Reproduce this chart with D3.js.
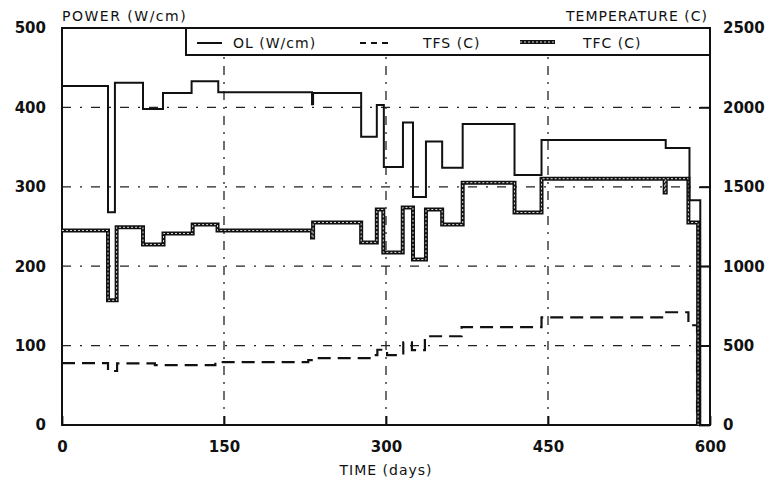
<!DOCTYPE html>
<html>
<head>
<meta charset="utf-8">
<script src="https://cdn.jsdelivr.net/npm/d3@7"></script>
<style>
  body { margin: 0; background: #fff; }
  text { font-family: "DejaVu Sans", sans-serif; fill: #111; }
</style>
</head>
<body>
<div id="chart"></div>
<script>
// step data (day where each level starts, level)
var olDays = [0, 42.6, 49, 75, 93.5, 120, 144.7, 231.5, 232.5, 277, 291.5, 298, 315.7, 325, 337, 352, 371, 419, 444, 559, 581, 591]
var olVals = [427, 268, 431, 398, 418, 433, 419, 404, 418, 363, 403, 325, 381, 287, 357, 324, 379, 315, 359, 349, 283, 0]

var tfcDays = [0, 42.6, 50.6, 75, 94, 121, 144, 231.5, 232.5, 277, 291.5, 297.5, 315.5, 325, 337, 352, 371, 419, 444, 558, 559, 580, 589]
var tfcVals = [1225, 785, 1245, 1137, 1206, 1262, 1225, 1180, 1275, 1150, 1357, 1087, 1370, 1042, 1357, 1262, 1526, 1338, 1551, 1464, 1551, 1275, 0]

var tfsDays = [0, 42.6, 51, 86, 142, 228, 234, 287, 292, 301, 316, 324, 336, 370, 444, 558, 580, 588]
var tfsVals = [390, 340, 388, 377, 396, 408, 421, 440, 474, 440, 521, 471, 559, 616, 678, 710, 628, 0]

var xTicks = [0, 150, 300, 450, 600]
var leftTicks = [0, 100, 200, 300, 400, 500]
var rightTicks = [0, 500, 1000, 1500, 2000, 2500]
var gridX = [150, 300, 450]
var gridY = [100, 200, 300, 400]

var margin = {top: 28, right: 64, bottom: 60, left: 62},
    width = 774 - margin.left - margin.right,
    height = 485 - margin.top - margin.bottom;

var svg = d3.select("#chart").append("svg")
    .attr("width", 774)
    .attr("height", 485)
  .append("g")
    .attr("transform", "translate(" + margin.left + "," + margin.top + ")");

var x = d3.scaleLinear().domain([0, 600]).range([0, width]);
var yL = d3.scaleLinear().domain([0, 500]).range([height, 0]);
var yR = d3.scaleLinear().domain([0, 2500]).range([height, 0]);

// grid (dash-dot)
svg.selectAll(".gy").data(gridY).enter().append("line")
    .attr("x1", 0).attr("x2", width)
    .attr("y1", function(d) { return yL(d) }).attr("y2", function(d) { return yL(d) })
    .attr("stroke", "#222").attr("stroke-width", 1.3)
    .attr("stroke-dasharray", "9,9,2,9");
svg.selectAll(".gx").data(gridX).enter().append("line")
    .attr("y1", height).attr("y2", 27)
    .attr("x1", function(d) { return x(d) }).attr("x2", function(d) { return x(d) })
    .attr("stroke", "#222").attr("stroke-width", 1.3)
    .attr("stroke-dasharray", "9,7,2,7");

// axes
svg.append("g")
    .attr("transform", "translate(0," + height + ")")
    .call(d3.axisBottom(x).tickValues(xTicks).tickSize(-9).tickPadding(16).tickFormat(d3.format("d")))
    .call(function(g) { g.select(".domain").remove() });
svg.append("g")
    .call(d3.axisLeft(yL).tickValues(leftTicks).tickSize(0).tickPadding(16).tickFormat(d3.format("d")))
    .call(function(g) { g.select(".domain").remove() });
svg.append("g")
    .attr("transform", "translate(" + width + ",0)")
    .call(d3.axisRight(yR).tickValues(rightTicks).tickSize(-11).tickPadding(13).tickFormat(d3.format("d")))
    .call(function(g) { g.select(".domain").remove() });

svg.selectAll(".tick line").attr("stroke", "#111").attr("stroke-width", 1.8);
svg.selectAll(".tick text")
    .style("font-size", "15px")
    .style("font-weight", "bold")
    .attr("fill", "#111");

// frame
svg.append("rect")
    .attr("width", width).attr("height", height)
    .attr("fill", "none").attr("stroke", "#111").attr("stroke-width", 2);

function stepLine(scale) {
  return d3.line()
    .x(function(d) { return x(d[0]) })
    .y(function(d) { return scale(d[1]) })
    .curve(d3.curveStepAfter);
}

var olData = d3.zip(olDays, olVals);
var tfcData = d3.zip(tfcDays, tfcVals);
var tfsData = d3.zip(tfsDays, tfsVals);

// TFS dashed
svg.append("path").datum(tfsData)
    .attr("fill", "none").attr("stroke", "#111").attr("stroke-width", 2.2)
    .attr("stroke-dasharray", "13,7")
    .attr("d", stepLine(yR));

// TFC double line
svg.append("path").datum(tfcData)
    .attr("fill", "none").attr("stroke", "#111").attr("stroke-width", 4)
    .attr("d", stepLine(yR));
svg.append("path").datum(tfcData)
    .attr("fill", "none").attr("stroke", "#ddd").attr("stroke-width", 1)
    .attr("stroke-dasharray", "2,2")
    .attr("d", stepLine(yR));

// OL solid
svg.append("path").datum(olData)
    .attr("fill", "none").attr("stroke", "#111").attr("stroke-width", 2)
    .attr("d", stepLine(yL));

// legend box
var lg = svg.append("g").attr("transform", "translate(" + (186 - margin.left) + ",0)");
lg.append("rect")
    .attr("width", width - (186 - margin.left)).attr("height", 27)
    .attr("fill", "#fff").attr("stroke", "#111").attr("stroke-width", 2);
var lx = function(px) { return px - 186 }
lg.append("line").attr("x1", lx(197)).attr("x2", lx(222)).attr("y1", 15).attr("y2", 15)
    .attr("stroke", "#111").attr("stroke-width", 2);
lg.append("text").attr("x", lx(233)).attr("y", 20).text("OL (W/cm)")
    .style("font-size", "14px").style("letter-spacing", "1px");
lg.append("line").attr("x1", lx(360)).attr("x2", lx(388)).attr("y1", 15).attr("y2", 15)
    .attr("stroke", "#111").attr("stroke-width", 2).attr("stroke-dasharray", "6,5");
lg.append("text").attr("x", lx(423)).attr("y", 20).text("TFS (C)")
    .style("font-size", "14px").style("letter-spacing", "1px");
lg.append("line").attr("x1", lx(520)).attr("x2", lx(555)).attr("y1", 14).attr("y2", 14)
    .attr("stroke", "#111").attr("stroke-width", 4);
lg.append("line").attr("x1", lx(520)).attr("x2", lx(555)).attr("y1", 14).attr("y2", 14)
    .attr("stroke", "#ddd").attr("stroke-width", 1).attr("stroke-dasharray", "2,2");
lg.append("text").attr("x", lx(583)).attr("y", 20).text("TFC (C)")
    .style("font-size", "14px").style("letter-spacing", "1px");

// axis titles
svg.append("text").attr("x", 0).attr("y", -7).text("POWER (W/cm)")
    .style("font-size", "14px").style("letter-spacing", "1.5px");
svg.append("text").attr("x", width - 2).attr("y", -7).attr("text-anchor", "end")
    .text("TEMPERATURE (C)")
    .style("font-size", "14px").style("letter-spacing", "1px");
svg.append("text").attr("x", x(300)).attr("y", height + 50).attr("text-anchor", "middle")
    .text("TIME (days)")
    .style("font-size", "14px").style("letter-spacing", "1px");
</script>
</body>
</html>
